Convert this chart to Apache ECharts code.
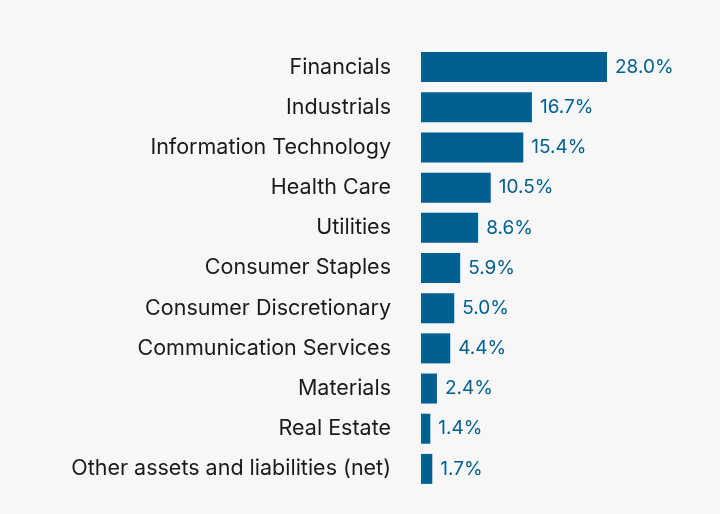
<!DOCTYPE html>
<html><head><meta charset="utf-8">
<script src="https://cdn.jsdelivr.net/npm/echarts@6/dist/echarts.min.js"></script>
<style>html,body{margin:0;padding:0;background:#f7f7f7;}#c{width:720px;height:514px;}</style>
</head><body><div id="c"></div>
<script>
const categories = ["Financials","Industrials","Information Technology","Health Care","Utilities","Consumer Staples","Consumer Discretionary","Communication Services","Materials","Real Estate","Other assets and liabilities (net)"];
const values = [28.0,16.7,15.4,10.5,8.6,5.9,5.0,4.4,2.4,1.4,1.7];
const chart = echarts.init(document.getElementById('c'));
chart.setOption({
  backgroundColor:'#f7f7f7',
  animation:false,
  grid:{left:421,top:47,width:186,bottom:25},
  xAxis:{type:'value',min:0,max:28,show:false},
  yAxis:{type:'category',data:categories,inverse:true,
    axisLine:{show:false},axisTick:{show:false},
    axisLabel:{color:'#1a1a1a',fontSize:21.5,fontFamily:'Inter, sans-serif',margin:30,padding:[8,0,0,0]}},
  series:[{type:'bar',data:values,barWidth:30,
    itemStyle:{color:'#006092'},
    label:{show:true,position:'right',distance:8,color:'#006092',fontSize:19,fontFamily:'Inter, sans-serif',padding:[8,0,0,0],
      formatter:p=>p.value.toFixed(1)+'%'}}]
});
</script></body></html>
